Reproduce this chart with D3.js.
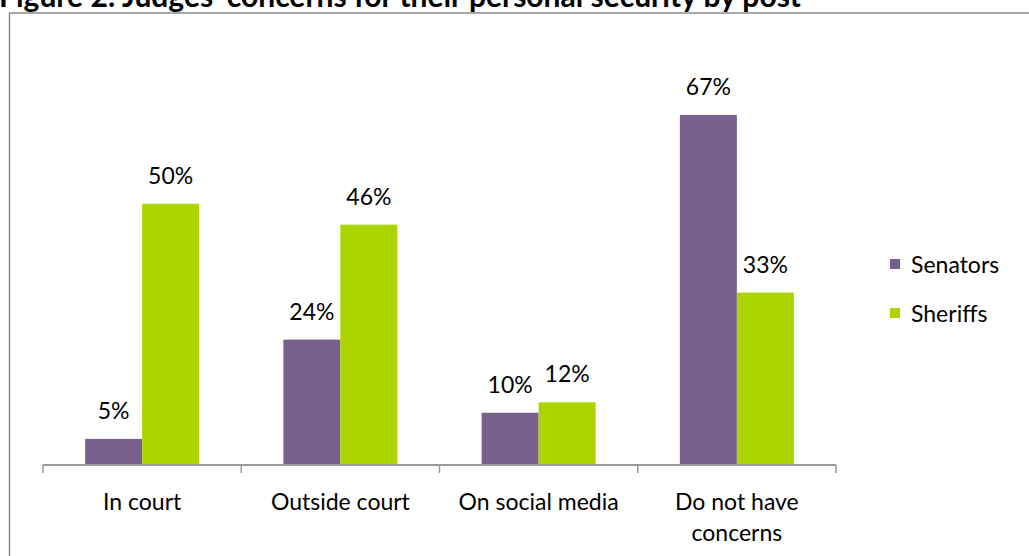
<!DOCTYPE html>
<html>
<head>
<meta charset="utf-8">
<script src="https://cdn.jsdelivr.net/npm/d3@7"></script>
<style>
  body { margin: 0; background: #fff; }
  svg { display: block; }
</style>
</head>
<body>
<div id="chart"></div>
<script>
var categories = [["In court"], ["Outside court"], ["On social media"], ["Do not have", "concerns"]];
var seriesNames = ["Senators", "Sheriffs"];
var senators = [5, 24, 10, 67];
var sheriffs = [50, 46, 12, 33];
var colors = ["#77608c", "#acd400"];

var width = 1029, height = 556;
var font = "Lato, 'Open Sans', sans-serif";

var svg = d3.select("#chart")
    .append("svg")
    .attr("width", width)
    .attr("height", height);

// title, clipped at the top like the source
svg.append("text")
    .attr("x", -1)
    .attr("y", 7)
    .attr("font-family", font)
    .attr("font-weight", "bold")
    .attr("font-size", 30)
    .attr("fill", "#000")
    .text("Figure 2: Judges\u2019 concerns for their personal security by post");

// outer frame
svg.append("rect")
    .attr("x", 9.5)
    .attr("y", 13)
    .attr("width", 1040)
    .attr("height", 600)
    .attr("fill", "#fff")
    .attr("stroke", "#8c8c8c")
    .attr("stroke-width", 1.5);

var x0 = d3.scaleBand()
    .domain(d3.range(categories.length))
    .range([43, 836])
    .paddingInner(0)
    .paddingOuter(0);

var x1 = d3.scaleBand()
    .domain(d3.range(seriesNames.length))
    .range([0, x0.bandwidth()])
    .paddingOuter(0.739);

var y = d3.scaleLinear()
    .domain([0, 80])
    .range([465, 47]);

var rows = categories.map(function(c, i){
    return { i: i, values: [senators[i], sheriffs[i]] };
});

var group = svg.selectAll(".grp")
    .data(rows)
    .enter()
    .append("g")
    .attr("class", "grp")
    .attr("transform", function(d){ return "translate(" + x0(d.i) + ",0)"; });

group.selectAll("rect")
    .data(function(d){ return d.values.map(function(v, k){ return { k: k, v: v }; }); })
    .enter()
    .append("rect")
    .attr("x", function(d){ return x1(d.k); })
    .attr("y", function(d){ return y(d.v); })
    .attr("width", x1.bandwidth())
    .attr("height", function(d){ return y(0) - y(d.v); })
    .attr("fill", function(d){ return colors[d.k]; });

group.selectAll(".val")
    .data(function(d){ return d.values.map(function(v, k){ return { k: k, v: v }; }); })
    .enter()
    .append("text")
    .attr("class", "val")
    .attr("x", function(d){ return x1(d.k) + x1.bandwidth() / 2; })
    .attr("y", function(d){ return y(d.v) - 20; })
    .attr("text-anchor", "middle")
    .attr("font-family", font)
    .attr("font-size", 23)
    .attr("fill", "#000")
    .text(function(d){ return d.v + "%"; });

// x axis
var axis = svg.append("g")
    .attr("transform", "translate(0,465)")
    .call(d3.axisBottom(x0).tickSize(0).tickFormat(""));
axis.select(".domain").remove();
axis.append("line")
    .attr("x1", 43).attr("x2", 836)
    .attr("stroke", "#999").attr("stroke-width", 2);
axis.selectAll(".sep")
    .data(d3.range(categories.length + 1))
    .enter()
    .append("line")
    .attr("x1", function(d){ return d < categories.length ? x0(d) : x0(d - 1) + x0.bandwidth(); })
    .attr("x2", function(d){ return d < categories.length ? x0(d) : x0(d - 1) + x0.bandwidth(); })
    .attr("y1", 0).attr("y2", 8)
    .attr("stroke", "#999").attr("stroke-width", 1.5);

svg.selectAll(".cat")
    .data(categories)
    .enter()
    .append("text")
    .attr("class", "cat")
    .attr("text-anchor", "middle")
    .attr("font-family", font)
    .attr("font-size", 23)
    .attr("fill", "#000")
    .attr("transform", function(d, i){ return "translate(" + (x0(i) + x0.bandwidth() / 2) + ",510)"; })
    .selectAll("tspan")
    .data(function(d){ return d; })
    .enter()
    .append("tspan")
    .attr("x", 0)
    .attr("dy", function(d, j){ return j === 0 ? 0 : 31; })
    .text(function(d){ return d; });

// legend
var legend = svg.selectAll(".leg")
    .data(seriesNames)
    .enter()
    .append("g")
    .attr("class", "leg")
    .attr("transform", function(d, i){ return "translate(890," + (259 + i * 49) + ")"; });
legend.append("rect")
    .attr("width", 10).attr("height", 10)
    .attr("fill", function(d, i){ return colors[i]; });
legend.append("text")
    .attr("x", 21)
    .attr("y", 14)
    .attr("font-family", font)
    .attr("font-size", 23)
    .attr("fill", "#000")
    .text(function(d){ return d; });
</script>
</body>
</html>
